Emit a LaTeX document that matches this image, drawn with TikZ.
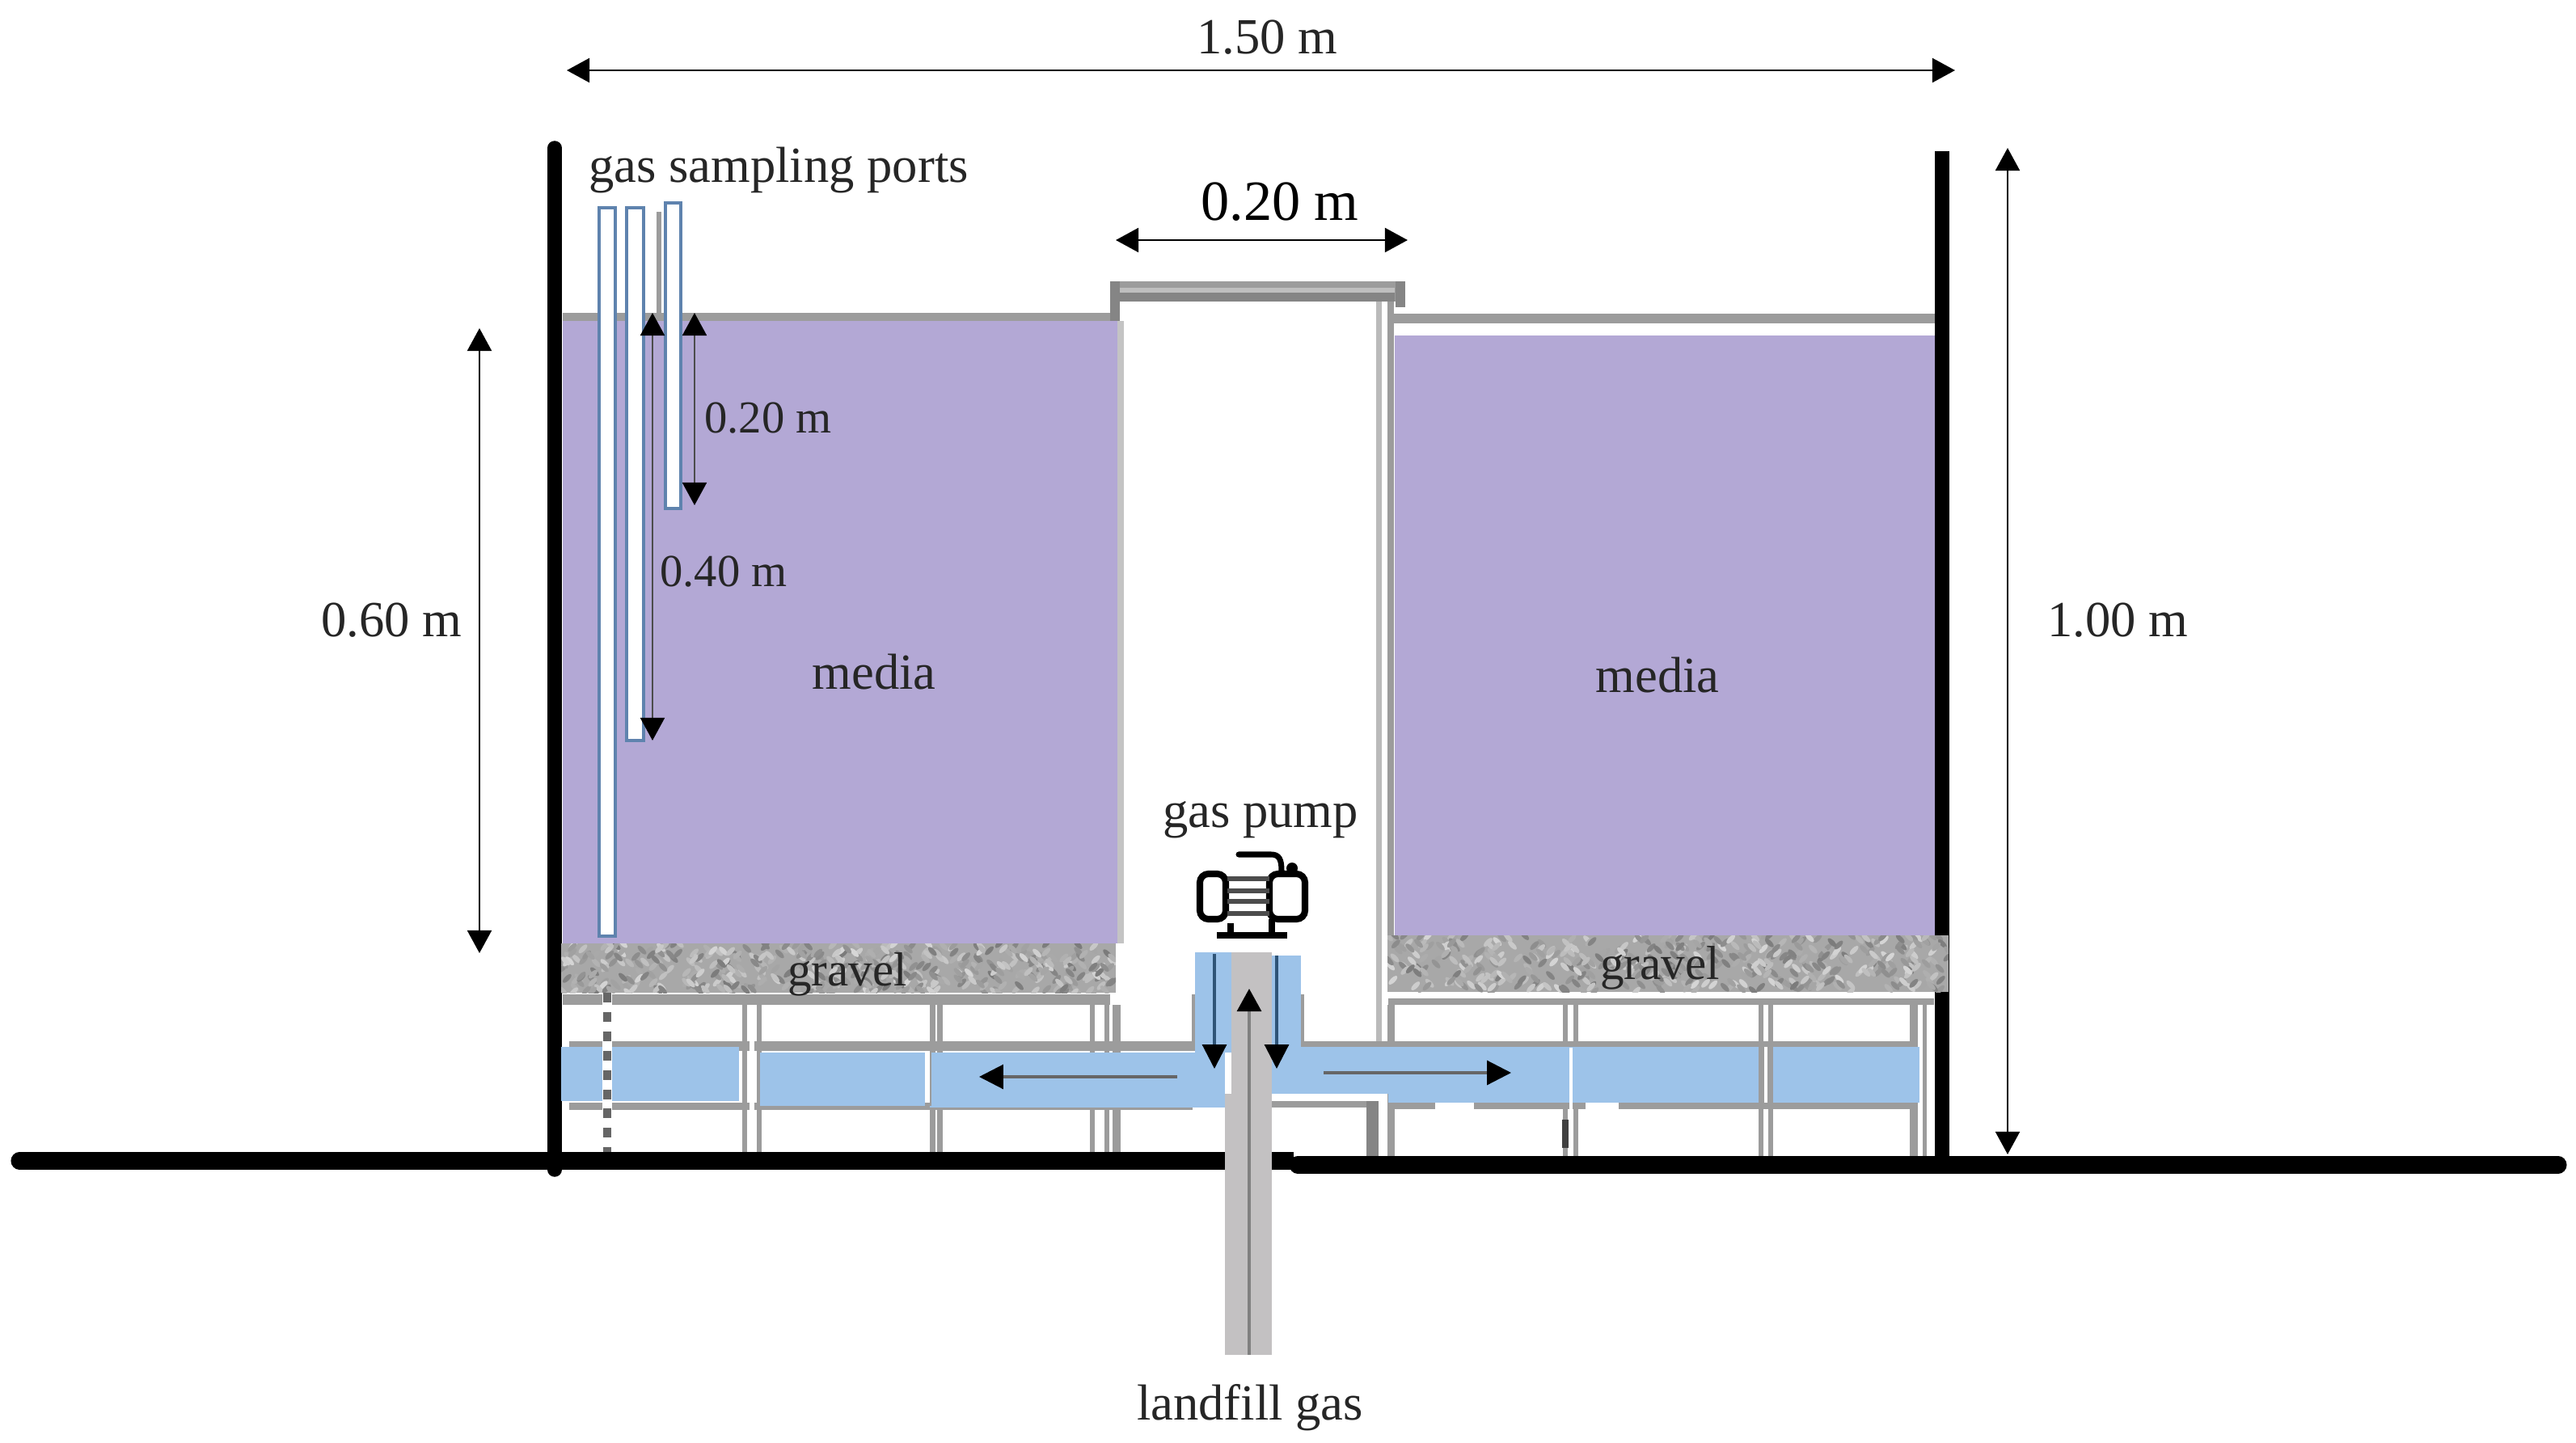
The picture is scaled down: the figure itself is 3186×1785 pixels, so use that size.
\documentclass[tikz,border=0pt]{standalone}
\usepackage{fontspec}
\setmainfont{Liberation Serif}
\usetikzlibrary{arrows.meta}
\definecolor{mediacol}{HTML}{B3A8D5}
\definecolor{bluecol}{HTML}{9DC3E9}
\definecolor{pipecol}{HTML}{C3C1C2}
\definecolor{framecol}{HTML}{9C9C9C}
\definecolor{framedark}{HTML}{858585}
\definecolor{tubecol}{HTML}{5F83AE}
\definecolor{gravelcol}{HTML}{A8A8A8}
\definecolor{txtcol}{HTML}{262626}
\definecolor{downcol}{HTML}{2F5477}
\newcommand{\txtsize}{\fontsize{17.8}{20}\selectfont}
\newcommand{\bigsize}{\fontsize{20}{23}\selectfont}
\newcommand{\smallsize}{\fontsize{16.1}{18}\selectfont}
\newcommand{\gravelsize}{\fontsize{16.8}{19}\selectfont}
\tikzset{
  x=0.01cm,y=-0.01cm,
  lbl/.style={inner sep=0pt,text=txtcol,font=\txtsize},
  smalllbl/.style={inner sep=0pt,text=txtcol,font=\smallsize},
  gravellbl/.style={inner sep=0pt,text=txtcol,font=\gravelsize},
  biglbl/.style={inner sep=0pt,text=black,font=\bigsize},
  dimline/.style={draw=black,line width=0.8pt,{Triangle[black,width=8.5pt,length=8pt]}-{Triangle[black,width=8.5pt,length=8pt]}},
  wallline/.style={draw=black,line width=5pt},
  groundline/.style={draw=black,line width=6pt,line cap=round},
  bar/.style={fill=framecol,draw=none},
  darkbar/.style={fill=framedark,draw=none},
  blue/.style={fill=bluecol,draw=none},
  tube/.style={draw=tubecol,line width=1.1pt,fill=white},
  flow/.style={line width=0.9pt,-{Triangle[black,width=8.5pt,length=8.5pt]}},
  pumpline/.style={draw=black,line width=2.3pt,rounded corners=3pt},
  pumpfin/.style={draw=black!70,line width=1.8pt},
}
\newcommand{\gravelblotches}[4]{%
  \begin{scope}
    \clip (#1,#2) rectangle (#3,#4);
    \fill[gravelcol] (#1,#2) rectangle (#3,#4);
    \foreach \i in {1,...,480}{
      \pgfmathsetmacro{\gx}{#1+rnd*(#3-#1)}
      \pgfmathsetmacro{\gy}{#2+rnd*(#4-#2)}
      \pgfmathsetmacro{\gs}{16+rnd*36}
      \pgfmathsetmacro{\gr}{rnd<0.5?45:-45}
      \fill[black!\gs,rotate around={\gr:(\gx,\gy)}] (\gx,\gy) ellipse [x radius=7,y radius=3];
    }
  \end{scope}}
\begin{document}
\begin{tikzpicture}
\pgfmathsetseed{4217}
\useasboundingbox (0,0) rectangle (3186,1785);
\fill[white] (0,0) rectangle (3186,1785);

% media
\fill[mediacol] (696,397) rectangle (1388,1167);
\fill[mediacol] (1725,415) rectangle (2395,1157);

% media top rims and column
\fill[bar] (696,387) rectangle (1385,397);
\fill[bar] (1723,388) rectangle (2395,400);
\fill[bar] (1373,348) rectangle (1738,373);
\fill[framecol!65] (1385,356) rectangle (1725,362);
\fill[framedark] (1385,362) rectangle (1725,373);
\fill[framedark] (1373,348) rectangle (1385,397);
\fill[framedark] (1726,348) rectangle (1738,380);
\fill[framecol!60] (1382,397) rectangle (1390,1167);
\fill[framecol!70] (1702,373) rectangle (1709,1290);
\fill[framecol] (1716,373) rectangle (1724,1157);

% walls
\draw[wallline,line cap=round] (686,183) -- (686,1447);
\draw[wallline] (2402,187) -- (2402,1440);

% frame, left
\fill[bar] (696,1230) rectangle (1373,1243);
\foreach \xa/\xb in {918/924,936/942,1150/1157,1159/1166,1348/1354,1366/1372,1376/1386}{
  \fill[bar] (\xa,1243) rectangle (\xb,1428);
}
\fill[bar] (704,1288) rectangle (1478,1300);
\fill[bar] (704,1364) rectangle (1475,1373);

% frame, right
\fill[bar] (1717,1235) rectangle (2392,1243);
\foreach \xa/\xb in {1716/1725,1933/1939,1946/1952,2175/2181,2187/2193,2362/2372,2378/2383}{
  \fill[bar] (\xa,1243) rectangle (\xb,1432);
}
\fill[bar] (1613,1288) rectangle (2362,1296);
\fill[bar] (1725,1364) rectangle (2362,1372);
\fill[bar] (1573,1362) rectangle (1700,1370);
\fill[darkbar] (1690,1362) rectangle (1705,1432);
\fill[bar] (1474,1230) rectangle (1478,1295);
\fill[bar] (1609,1230) rectangle (1613,1295);
\fill[white] (1775,1364) rectangle (1823,1373);
\fill[white] (1961,1364) rectangle (2002,1373);

% gravel
\gravelblotches{694}{1167}{1380}{1228}
\gravelblotches{1716}{1157}{2410}{1227}

% blue gas channels
\fill[blue] (694,1295) rectangle (914,1362);
\fill[blue] (940,1302) rectangle (1144,1368);
\fill[blue] (1150,1302) rectangle (1515,1370);
\fill[blue] (1478,1178) rectangle (1523,1302);
\fill[blue] (1573,1182) rectangle (1609,1295);
\fill[blue] (1573,1295) rectangle (1717,1353);
\fill[blue] (1717,1295) rectangle (2374,1364);
\fill[white] (927,1288) rectangle (933,1430);
\fill[framecol] (1150,1302) rectangle (1152,1368);
\fill[white] (1941,1296) rectangle (1945,1372);
\fill[framecol] (2175,1295) rectangle (2193,1364);
\fill[white] (2182,1295) rectangle (2186,1364);
\fill[bar] (2378,1290) rectangle (2383,1368);

% dashed post through the left channel
\fill[white] (745,1228) rectangle (757,1428);
\draw[draw=black!60,line width=3pt,dash pattern=on 3.4pt off 3.4pt] (751,1228) -- (751,1428);
\fill[black!75] (1932,1385) rectangle (1940,1420);

% ground
\draw[groundline] (24,1436) -- (1515,1436);
\draw[groundline] (1605,1441) -- (3164,1441);
\fill[black] (1573,1425) rectangle (1600,1447);

% landfill gas pipe
\fill[pipecol] (1523,1178) rectangle (1573,1360);
\fill[pipecol] (1515,1353) rectangle (1573,1676);
\coordinate (pipeBottom) at (1545,1676);
\coordinate (pipeTop) at (1545,1223);
\draw[draw=black!50,line width=1.1pt,-{Triangle[black,width=8.5pt,length=8pt]}] (pipeBottom) -- (pipeTop);

% flow arrows
\coordinate (fl1) at (1456,1332); \coordinate (fl2) at (1211,1332);
\coordinate (fr1) at (1637,1327); \coordinate (fr2) at (1869,1327);
\coordinate (dl1) at (1502,1180); \coordinate (dl2) at (1502,1322);
\coordinate (dr1) at (1579,1182); \coordinate (dr2) at (1579,1322);
\draw[flow,draw=black!60] (fl1) -- (fl2);
\draw[flow,draw=black!60] (fr1) -- (fr2);
\draw[flow,draw=downcol] (dl1) -- (dl2);
\draw[flow,draw=downcol] (dr1) -- (dr2);

% sampling tubes
\draw[draw=framecol,line width=1.5pt] (815,262) -- (815,390);
\draw[tube] (741,257) rectangle (761,1158);
\draw[tube] (775,257) rectangle (796,916);
\draw[tube] (823,251) rectangle (842,629);

% pump
\draw[pumpline] (1484,1081) rectangle (1516,1137);
\draw[pumpline] (1570,1081) rectangle (1614,1137);
\foreach \fy in {1087,1102,1115,1130}{
  \draw[pumpfin] (1518,\fy) -- (1570,\fy);
}
\draw[draw=black,line width=2pt,line cap=round] (1532,1057) -- (1572,1057) .. controls (1582,1057) and (1585,1063) .. (1585,1077);
\fill[black] (1598,1074) circle [radius=7];
\draw[draw=black,line width=2pt] (1573,1137) -- (1573,1157);
\draw[draw=black,line width=2pt] (1522,1142) -- (1522,1157);
\draw[draw=black,line width=2.1pt] (1505,1157) -- (1592,1157);

% dimensions
\coordinate (a1) at (701,87); \coordinate (a2) at (2418,87);
\coordinate (b1) at (1380,297); \coordinate (b2) at (1741,297);
\coordinate (c1) at (2483,183); \coordinate (c2) at (2483,1428);
\coordinate (d1) at (593,406); \coordinate (d2) at (593,1179);
\coordinate (e1) at (807,387); \coordinate (e2) at (807,916);
\coordinate (f1) at (859,387); \coordinate (f2) at (859,625);
\draw[dimline] (a1) -- (a2);
\draw[dimline] (b1) -- (b2);
\draw[dimline] (c1) -- (c2);
\draw[dimline] (d1) -- (d2);
\draw[dimline,draw=black!70] (e1) -- (e2);
\draw[dimline,draw=black!70] (f1) -- (f2);

% labels
\node[lbl] (l150) at (1567,46) {1.50 m};
\node[biglbl] (l020top) at (1583,250) {0.20 m};
\node[lbl] (l100) at (2619,767) {1.00 m};
\node[lbl] (l060) at (484,767) {0.60 m};
\node[lbl] (lports) at (963,211) {gas sampling ports};
\node[smalllbl] (l020) at (950,517) {0.20 m};
\node[smalllbl] (l040) at (895,707) {0.40 m};
\node[lbl] (lmediaL) at (1081,831) {media};
\node[lbl] (lmediaR) at (2050,835) {media};
\node[gravellbl] (lgravelL) at (1048,1205) {gravel};
\node[gravellbl] (lgravelR) at (2053,1197) {gravel};
\node[lbl] (lpump) at (1559,1014) {gas pump};
\node[lbl] (llandfill) at (1546,1741) {landfill gas};
\end{tikzpicture}
\end{document}
